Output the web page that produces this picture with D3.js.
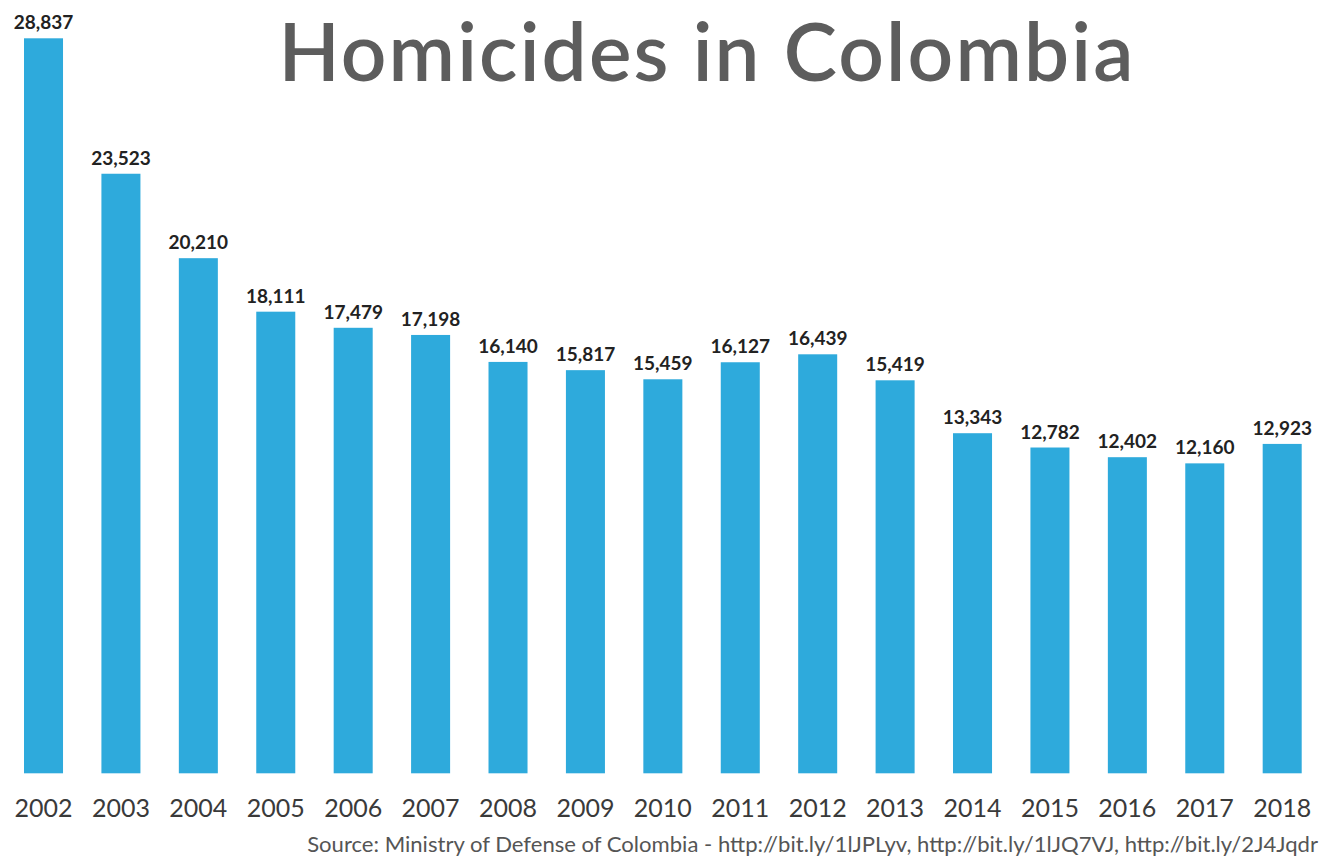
<!DOCTYPE html>
<html>
<head>
<meta charset="utf-8">
<script src="https://cdn.jsdelivr.net/npm/d3@7"></script>
<style>
  body { margin: 0; background: #fff; }
  svg { display: block; font-family: Lato, "Open Sans", sans-serif; }
</style>
</head>
<body>
<svg id="chart" width="1333" height="858"></svg>
<script>
// Data
const years = ["2002", "2003", "2004", "2005", "2006", "2007", "2008", "2009", "2010",
  "2011", "2012", "2013", "2014", "2015", "2016", "2017", "2018"];
const homicides = [28837, 23523, 20210, 18111, 17479, 17198, 16140, 15817, 15459,
  16127, 16439, 15419, 13343, 12782, 12402, 12160, 12923];
const title = "Homicides in Colombia";
const source = "Source: Ministry of Defense of Colombia - http://bit.ly/1lJPLyv, http://bit.ly/1lJQ7VJ, http://bit.ly/2J4Jqdr";

const svg = d3.select("#chart");
const barColor = "#2eaadc";

const x = d3.scaleBand()
  .domain(years)
  .range([4.8, 1320.9])
  .paddingInner(0.496)
  .paddingOuter(0.248);

const y = d3.scaleLinear()
  .domain([0, d3.max(homicides)])
  .range([773.3, 38.3]);

const fmt = d3.format(",");

// Bars
svg.selectAll("rect.bar")
  .data(homicides)
  .enter()
  .append("rect")
  .attr("class", "bar")
  .attr("x", (d, i) => x(years[i]))
  .attr("y", d => y(d))
  .attr("width", x.bandwidth())
  .attr("height", d => y(0) - y(d))
  .attr("fill", barColor);

// Value labels
svg.selectAll("text.value")
  .data(homicides)
  .enter()
  .append("text")
  .attr("class", "value")
  .attr("x", (d, i) => x(years[i]) + x.bandwidth() / 2)
  .attr("y", d => y(d) - 9)
  .attr("text-anchor", "middle")
  .style("font-size", "19px")
  .style("font-weight", "bold")
  .style("fill", "#222")
  .text(d => fmt(d));

// Year axis
const xAxis = svg.append("g")
  .attr("transform", "translate(0,773.3)")
  .call(d3.axisBottom(x).tickSize(0).tickPadding(0));
xAxis.select(".domain").remove();
xAxis.selectAll("text")
  .attr("dy", 0)
  .attr("y", 44)
  .style("font-family", "Lato, sans-serif")
  .style("font-size", "25px")
  .style("fill", "#3a3a3a");

// Title: fixed size, spacing stretched to the width in the picture
const titleText = svg.append("text")
  .attr("x", 707)
  .attr("y", 81)
  .attr("text-anchor", "middle")
  .style("font-size", "80px")
  .style("font-weight", "600")
  .style("fill", "#5d5d5d")
  .text(title);
const tw = titleText.node().getComputedTextLength();
titleText.style("letter-spacing", ((855 - tw) / (title.length - 1)) + "px");

// Source line
const sourceText = svg.append("text")
  .attr("x", 1318)
  .attr("y", 852)
  .attr("text-anchor", "end")
  .style("font-size", "17px")
  .style("fill", "#555")
  .text(source);
const sw = sourceText.node().getComputedTextLength();
sourceText.style("font-size", (17 * 1011 / sw) + "px");
</script>
</body>
</html>
